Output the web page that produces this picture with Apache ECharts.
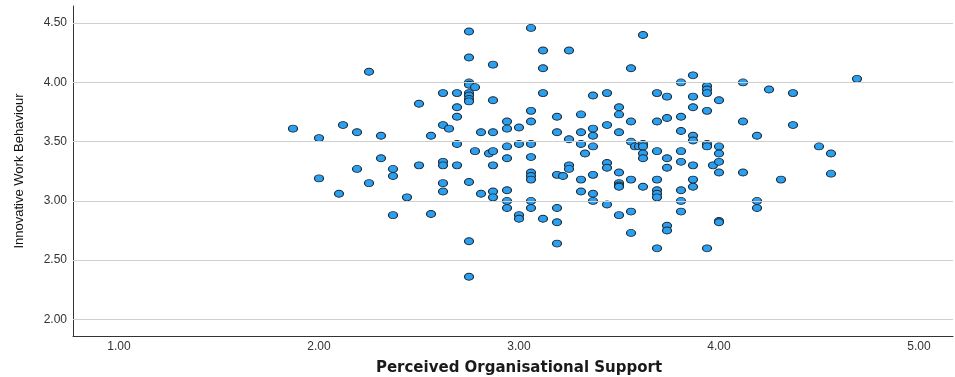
<!DOCTYPE html>
<html>
<head>
<meta charset="utf-8">
<script src="https://cdn.jsdelivr.net/npm/echarts@6/dist/echarts.min.js"></script>
<style>
  html, body { margin: 0; padding: 0; background: #fff; }
  #main { width: 955px; height: 377px; }
</style>
</head>
<body>
<div id="main"></div>
<script>
// Perceived Organisational Support (x) vs Innovative Work Behaviour (y)
const pos = [
  1.87, 2.00, 2.00, 2.12, 2.19, 2.25, 2.31, 2.31, 2.19, 2.37,
  2.37, 2.25, 2.10, 2.44, 2.37, 2.50, 2.50, 2.56, 2.56, 2.62,
  2.62, 2.65, 2.62, 2.62, 2.62, 2.62, 2.69, 2.69, 2.69, 2.69,
  2.69, 2.75, 2.75, 2.75, 2.75, 2.75, 2.75, 2.75, 2.75, 2.75,
  2.75, 2.75, 2.78, 2.78, 2.81, 2.81, 2.85, 2.87, 2.87, 2.87,
  2.87, 2.94, 2.94, 2.94, 2.94, 3.00, 3.00, 3.06, 3.06, 3.06,
  3.06, 3.06, 3.12, 3.12, 3.12, 3.19, 3.19, 3.25, 3.25, 3.31,
  3.31, 3.31, 3.33, 3.37, 3.37, 3.37, 3.37, 3.44, 3.44, 3.50,
  3.50, 3.50, 3.56, 3.56, 3.56, 3.58, 3.60, 3.62, 3.62, 3.62,
  3.62, 3.62, 3.69, 3.69, 3.69, 2.87, 2.87, 2.87, 2.94, 2.94,
  2.94, 3.00, 3.00, 3.06, 3.06, 3.06, 3.06, 3.06, 3.12, 3.19,
  3.22, 3.19, 3.19, 3.19, 3.25, 3.25, 3.31, 3.31, 3.37, 3.37,
  3.37, 3.44, 3.44, 3.44, 3.50, 3.50, 3.50, 3.50, 3.50, 3.56,
  3.56, 3.56, 3.62, 3.69, 3.69, 3.69, 3.69, 3.69, 3.74, 3.74,
  3.74, 3.74, 3.74, 3.74, 3.81, 3.81, 3.81, 3.81, 3.81, 3.81,
  3.81, 3.81, 3.87, 3.87, 3.87, 3.87, 3.87, 3.87, 3.87, 3.87,
  3.94, 3.94, 3.94, 3.94, 3.94, 3.94, 3.94, 3.97, 4.00, 4.00,
  4.00, 4.00, 4.00, 4.00, 4.00, 4.12, 4.12, 4.12, 4.19, 4.19,
  4.19, 4.25, 4.31, 4.37, 4.37, 4.50, 4.56, 4.56, 4.69
]
const iwb = [
  3.61, 3.53, 3.19, 3.64, 3.58, 4.09, 3.55, 3.36, 3.27, 3.27,
  3.21, 3.15, 3.06, 3.03, 2.88, 3.82, 3.30, 3.55, 2.89, 3.91,
  3.64, 3.61, 3.33, 3.30, 3.15, 3.08, 3.91, 3.79, 3.71, 3.48,
  3.30, 4.43, 4.21, 4.00, 3.98, 3.91, 3.89, 3.86, 3.84, 3.16,
  2.66, 2.36, 3.96, 3.42, 3.58, 3.06, 3.40, 4.15, 3.85, 3.58,
  3.42, 3.67, 3.61, 3.46, 3.36, 3.62, 3.48, 4.46, 3.76, 3.67,
  3.48, 3.37, 4.27, 4.12, 3.91, 3.71, 3.58, 4.27, 3.52, 3.73,
  3.58, 3.48, 3.40, 3.89, 3.61, 3.55, 3.46, 3.91, 3.64, 3.79,
  3.73, 3.58, 4.12, 3.67, 3.50, 3.46, 3.46, 3.48, 3.46, 3.40,
  3.36, 4.40, 3.91, 3.67, 3.42, 3.30, 3.08, 3.03, 3.09, 3.00,
  2.94, 2.88, 2.85, 3.24, 3.21, 3.18, 3.00, 2.94, 2.85, 3.22,
  3.21, 2.94, 2.82, 2.64, 3.30, 3.27, 3.18, 3.08, 3.22, 3.06,
  3.00, 3.32, 3.28, 2.97, 3.24, 3.15, 3.13, 3.12, 2.88, 3.18,
  2.91, 2.73, 3.12, 3.18, 3.09, 3.06, 3.03, 2.60, 3.88, 3.70,
  3.36, 3.28, 2.79, 2.75, 4.00, 3.71, 3.59, 3.42, 3.33, 3.09,
  3.00, 2.91, 4.06, 3.88, 3.79, 3.55, 3.51, 3.30, 3.18, 3.12,
  3.97, 3.94, 3.91, 3.76, 3.48, 3.46, 2.60, 3.30, 3.85, 3.46,
  3.40, 3.33, 3.24, 2.83, 2.82, 4.00, 3.67, 3.24, 3.55, 3.00,
  2.94, 3.94, 3.18, 3.91, 3.64, 3.46, 3.40, 3.23, 4.03
]
const xTicks = [1, 2, 3, 4, 5]
const yTicks = [2, 2.5, 3, 3.5, 4, 4.5]

const points = pos.map((x, i) => [x, iwb[i]])

const myChart = echarts.init(document.getElementById('main'))
myChart.setOption({
  animation: false,
  grid: {
    left: 73,
    right: 2,
    top: 6,
    bottom: 41,
    outerBoundsMode: 'none'
  },
  xAxis: {
    type: 'value',
    min: 0.77,
    max: 5.17,
    name: 'Perceived Organisational Support',
    nameLocation: 'middle',
    nameGap: 25,
    nameTextStyle: {
      fontFamily: 'DejaVu Sans',
      fontWeight: 'bold',
      fontSize: 15,
      color: '#1a1a1a',
      padding: [0, 0, 0, 12]
    },
    axisLine: { show: true, onZero: false, lineStyle: { color: '#333', width: 1 } },
    axisTick: { show: false, customValues: xTicks },
    splitLine: { show: false },
    axisLabel: {
      customValues: xTicks,
      margin: 5,
      fontFamily: 'Liberation Sans',
      fontSize: 12,
      color: '#333',
      formatter: v => Number(v).toFixed(2)
    }
  },
  yAxis: {
    type: 'value',
    min: 1.86,
    max: 4.645,
    name: 'Innovative Work Behaviour',
    nameLocation: 'middle',
    nameRotate: 90,
    nameGap: 47,
    nameTextStyle: {
      fontFamily: 'Liberation Sans',
      fontSize: 13,
      color: '#111'
    },
    axisLine: { show: true, onZero: false, lineStyle: { color: '#333', width: 1 } },
    axisTick: { show: false, customValues: yTicks },
    splitLine: { show: false },
    axisLabel: {
      customValues: yTicks,
      margin: 6,
      fontFamily: 'Liberation Sans',
      fontSize: 12,
      color: '#333',
      formatter: v => Number(v).toFixed(2)
    }
  },
  series: [
    {
      // horizontal reference lines at the y tick values
      type: 'scatter',
      data: [],
      z: 1,
      silent: true,
      markLine: {
        silent: true,
        symbol: 'none',
        label: { show: false },
        lineStyle: { color: '#cfcfcf', type: 'solid', width: 1 },
        data: yTicks.map(v => ({ yAxis: v }))
      }
    },
    {
      type: 'scatter',
      z: 3,
      symbol: 'circle',
      symbolSize: [9, 7],
      itemStyle: {
        color: '#2b9ff0',
        borderColor: '#1c2833',
        borderWidth: 1,
        opacity: 1
      },
      data: points
    }
  ]
})
window.addEventListener('resize', () => {
  myChart.resize()
})
</script>
</body>
</html>
